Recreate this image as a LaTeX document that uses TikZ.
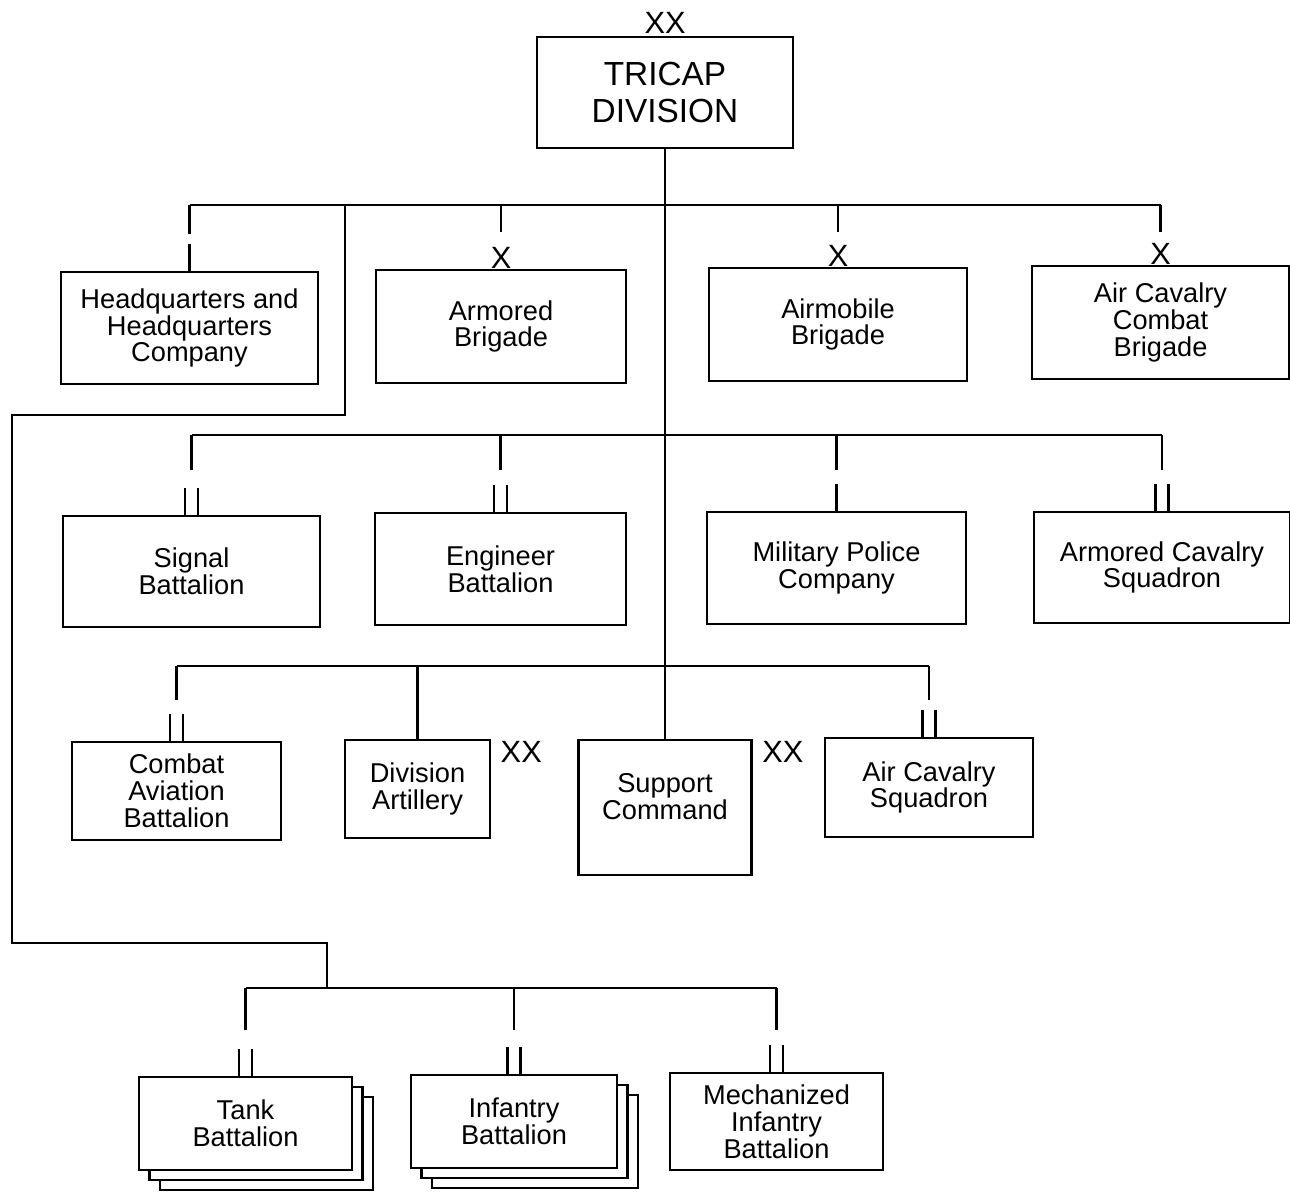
\documentclass[tikz,border=0pt]{standalone}
\usepackage{fontspec}
\setmainfont{Liberation Sans}
\usetikzlibrary{calc,shadows}

\tikzset{
  unitbox/.style={draw, fill=white, line width=1.6pt, align=center, inner sep=2pt,
    font=\fontsize{15.5}{15.3}\selectfont},
  echelon/.style={inner sep=0pt, font=\fontsize{17.5}{17.5}\selectfont},
  link/.style={line width=1.6pt},
  stack/.style={double copy shadow={shadow xshift=0.21cm, shadow yshift=-0.2cm,
    draw=black, fill=white, line width=1.6pt}}
}

\begin{document}
\begin{tikzpicture}[x=0.02cm, y=-0.02cm]
\useasboundingbox (0,0) rectangle (1290,1196);

% division
\node[unitbox, minimum width=5.12cm, minimum height=2.22cm,
  font=\fontsize{19}{21.5}\selectfont] (div) at (665,92.5) {TRICAP\\DIVISION};
\node[echelon, anchor=south] (divxx) at ([yshift=0.04cm]div.north) {XX};

% first row
\node[unitbox, minimum width=5.14cm, minimum height=2.24cm] (hq) at (189.5,328) {Headquarters and\\Headquarters\\Company};
\node[unitbox, minimum width=5.0cm, minimum height=2.26cm] (armd) at (501,326.5) {Armored\\Brigade};
\node[unitbox, minimum width=5.16cm, minimum height=2.26cm] (airm) at (838,324.5) {Airmobile\\Brigade};
\node[unitbox, minimum width=5.14cm, minimum height=2.26cm] (accb) at (1160.5,322.5) {Air Cavalry\\Combat\\Brigade};

% second row
\node[unitbox, minimum width=5.14cm, minimum height=2.22cm] (sig) at (191.5,571.5) {Signal\\Battalion};
\node[unitbox, minimum width=5.02cm, minimum height=2.24cm] (eng) at (500.5,569) {Engineer\\Battalion};
\node[unitbox, minimum width=5.18cm, minimum height=2.24cm] (mp) at (836.5,568) {Military Police\\Company};
\node[unitbox, minimum width=5.12cm, minimum height=2.22cm] (acs) at (1162,567.5) {Armored Cavalry\\Squadron};

% third row
\node[unitbox, minimum width=4.18cm, minimum height=1.96cm] (cab) at (176.5,791) {Combat\\Aviation\\Battalion};
\node[unitbox, minimum width=2.9cm, minimum height=1.96cm] (dart) at (417.5,789) {Division\\Artillery};
\node[unitbox, minimum width=3.46cm, minimum height=2.7cm] (spt) at (665,807.5) {};
\node[align=center, inner sep=0pt, font=\fontsize{15.5}{15.3}\selectfont] (spttxt) at (665,797) {Support\\Command};
\node[unitbox, minimum width=4.16cm, minimum height=1.98cm] (acsq) at (929,787.5) {Air Cavalry\\Squadron};
\node[echelon, anchor=north west] (dartxx) at ([xshift=0.18cm, yshift=-0.04cm]dart.north east) {XX};
\node[echelon, anchor=north west] (sptxx) at ([xshift=0.18cm, yshift=-0.04cm]spt.north east) {XX};

% fourth row
\node[unitbox, stack, minimum width=4.26cm, minimum height=1.86cm] (tank) at (245.5,1123.5) {Tank\\Battalion};
\node[unitbox, stack, minimum width=4.12cm, minimum height=1.86cm] (inf) at (514,1121.5) {Infantry\\Battalion};
\node[unitbox, minimum width=4.26cm, minimum height=1.94cm] (mech) at (776.5,1121.5) {Mechanized\\Infantry\\Battalion};

% buses
\coordinate (bus1) at (665,205);
\coordinate (bus2) at (665,435);
\coordinate (bus3) at (665,666);
\coordinate (bus4) at (327,988);
\coordinate (lnk) at (345,205);

\draw[link] (div.south) -- (div.south |- spt.north);
\draw[link] (hq.north |- bus1) -- (accb.north |- bus1);
\draw[link] (sig.north |- bus2) -- (acs.north |- bus2);
\draw[link] (cab.north |- bus3) -- (acsq.north |- bus3);
\draw[link] (tank.north |- bus4) -- (mech.north |- bus4);
\draw[link] (lnk) |- (12,415) |- (327,943) -- (bus4);

% drops
\draw[link] (hq.north |- bus1) -- ++(0,29);
\foreach \n in {armd,airm,accb} {
  \draw[link] (\n.north |- bus1) -- ++(0,27);
  \node[echelon, anchor=south] (\n-x) at (\n.north) {X};
}
\foreach \n in {sig,eng,mp,acs} \draw[link] (\n.north |- bus2) -- ++(0,35);
\foreach \n in {cab,acsq} \draw[link] (\n.north |- bus3) -- ++(0,34);
\draw[link] (dart.north |- bus3) -- (dart.north);
\foreach \n in {tank,inf,mech} \draw[link] (\n.north |- bus4) -- ++(0,42);

% company and battalion bars
\foreach \n in {hq,mp} \draw[link] (\n.north) -- ++(0,-27);
\foreach \n in {sig,eng,acs,cab,acsq,tank,inf,mech} {
  \draw[link] ([xshift=-0.13cm]\n.north) -- ++(0,-27);
  \draw[link] ([xshift=0.13cm]\n.north) -- ++(0,-27);
}
\end{tikzpicture}
\end{document}
